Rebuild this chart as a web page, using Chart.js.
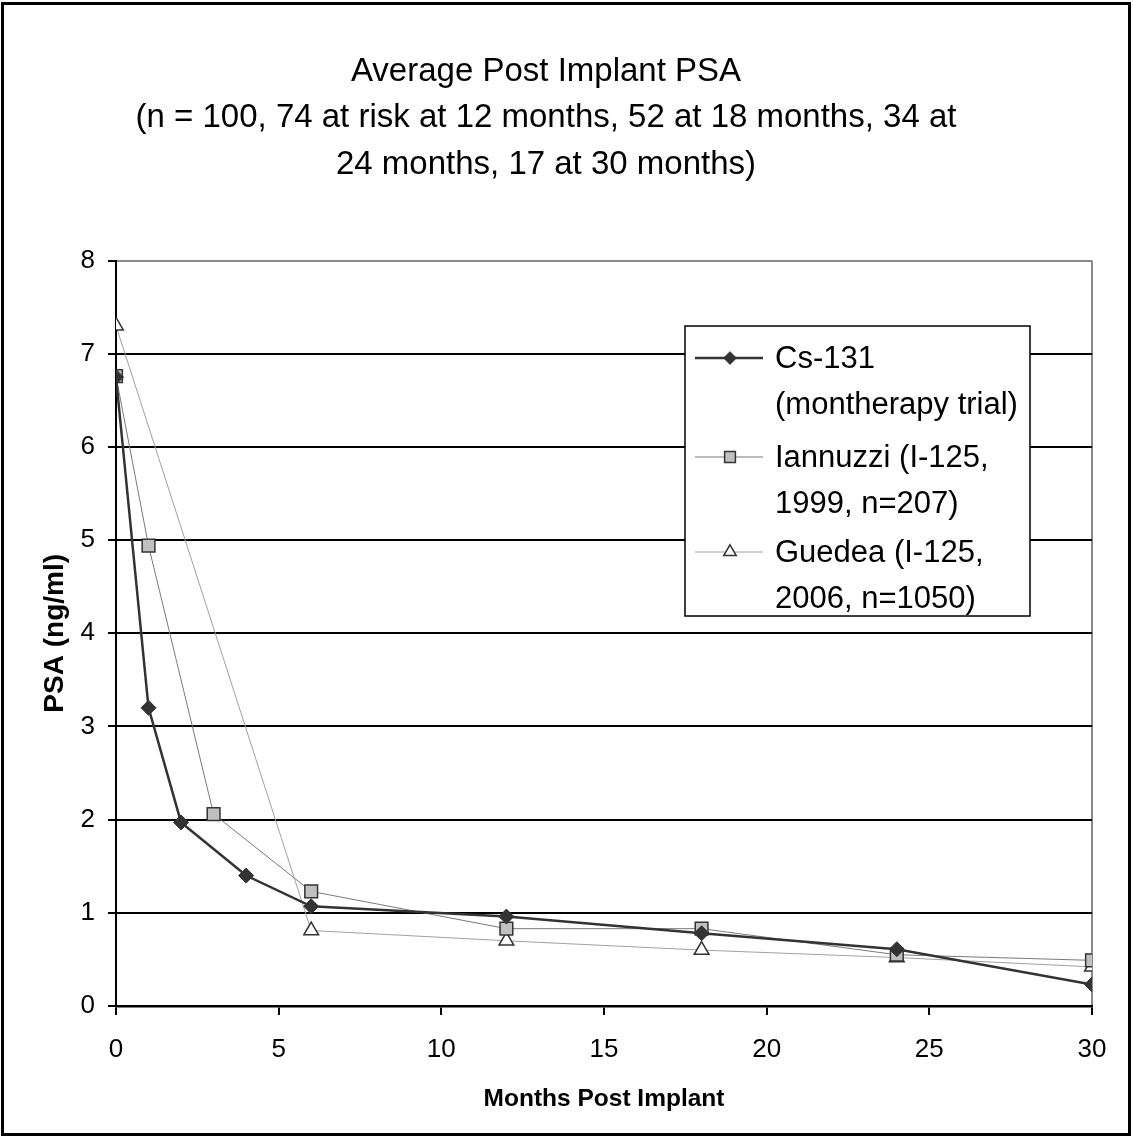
<!DOCTYPE html>
<html>
<head>
<meta charset="utf-8">
<script src="https://cdn.jsdelivr.net/npm/chart.js@4.4.1/dist/chart.umd.min.js"></script>
<style>
  html, body { margin: 0; padding: 0; background: #fff; }
  #wrap { width: 1133px; height: 1138px; position: relative; }
</style>
</head>
<body>
<div id="wrap"><canvas id="myChart"></canvas></div>
<script>
// Data
const monthsCs = [0, 1, 2, 4, 6, 12, 18, 24, 30];
const psaCs = [6.75, 3.2, 1.97, 1.4, 1.07, 0.96, 0.78, 0.61, 0.23];

const monthsIannuzzi = [0, 1, 3, 6, 12, 18, 24, 30];
const psaIannuzzi = [6.76, 4.94, 2.06, 1.23, 0.83, 0.83, 0.55, 0.49];

const monthsGuedea = [0, 6, 12, 18, 24, 30];
const psaGuedea = [7.3, 0.81, 0.7, 0.6, 0.52, 0.42];

const seriesNames = [
    ['Cs-131', '(montherapy trial)'],
    ['Iannuzzi (I-125,', '1999, n=207)'],
    ['Guedea (I-125,', '2006, n=1050)']
];

const titleLines = [
    'Average Post Implant PSA',
    '(n = 100, 74 at risk at 12 months, 52 at 18 months, 34 at',
    '24 months, 17 at 30 months)'
];

const FONT = '"Liberation Sans", Arial, sans-serif';

function points(xs, ys) {
    return xs.map((x, i) => ({ x: x, y: ys[i] }));
}

// Legend box + outer frame
const legendBox = {
    id: 'legendBox',
    afterDraw(chart) {
        const ctx = chart.ctx;
        ctx.save();
        // outer frame
        ctx.strokeStyle = '#000';
        ctx.lineWidth = 3;
        ctx.strokeRect(2.5, 3.5, 1127, 1131);

        // legend
        const bx = 685, by = 326, bw = 345, bh = 290;
        ctx.fillStyle = '#fff';
        ctx.fillRect(bx, by, bw, bh);
        ctx.strokeStyle = '#000';
        ctx.lineWidth = 1.5;
        ctx.strokeRect(bx, by, bw, bh);

        const rows = [358, 457, 552];
        ctx.font = '31px ' + FONT;
        ctx.textBaseline = 'middle';
        ctx.textAlign = 'left';
        chart.data.datasets.forEach((ds, i) => {
            const y = rows[i];
            ctx.strokeStyle = ds.borderColor;
            ctx.lineWidth = ds.borderWidth;
            ctx.beginPath();
            ctx.moveTo(695, y);
            ctx.lineTo(763, y);
            ctx.stroke();
            ctx.fillStyle = ds.pointBackgroundColor;
            ctx.strokeStyle = ds.pointBorderColor;
            ctx.lineWidth = ds.pointBorderWidth;
            Chart.helpers.drawPoint(ctx, {
                pointStyle: ds.pointStyle,
                radius: ds.pointRadius * 0.85,
                rotation: 0,
                borderWidth: ds.pointBorderWidth
            }, 730, y);
            ctx.fillStyle = '#000';
            seriesNames[i].forEach((line, j) => {
                ctx.fillText(line, 775, y + 1 + j * 46);
            });
        });
        ctx.restore();
    }
};

const ctx = document.getElementById('myChart').getContext('2d');
new Chart(ctx, {
    type: 'line',
    data: {
        datasets: [
            {
                label: seriesNames[0].join(' '),
                data: points(monthsCs, psaCs),
                borderColor: '#333333',
                borderWidth: 2.5,
                pointStyle: 'rectRot',
                pointRadius: 7.5,
                pointBackgroundColor: '#333333',
                pointBorderColor: '#333333',
                pointBorderWidth: 1,
                order: 1
            },
            {
                label: seriesNames[1].join(' '),
                data: points(monthsIannuzzi, psaIannuzzi),
                borderColor: '#7a7a7a',
                borderWidth: 1,
                pointStyle: 'rect',
                pointRadius: 9,
                pointBackgroundColor: '#c0c0c0',
                pointBorderColor: '#333333',
                pointBorderWidth: 1.5,
                order: 2
            },
            {
                label: seriesNames[2].join(' '),
                data: points(monthsGuedea, psaGuedea),
                borderColor: '#a0a0a0',
                borderWidth: 1,
                pointStyle: 'triangle',
                pointRadius: 8.5,
                pointBackgroundColor: '#ffffff',
                pointBorderColor: '#333333',
                pointBorderWidth: 1.5,
                order: 3
            }
        ]
    },
    options: {
        responsive: true,
        maintainAspectRatio: false,
        animation: false,
        layout: { padding: { left: 0, right: 41, top: 0, bottom: 0 } },
        plugins: {
            legend: { display: false },
            tooltip: { enabled: false },
            title: {
                display: true,
                text: titleLines,
                color: '#000',
                font: { family: FONT, size: 33, weight: 'normal', lineHeight: 1.4 },
                padding: { top: 49, bottom: 73 }
            }
        },
        scales: {
            x: {
                type: 'linear',
                min: 0,
                max: 30,
                ticks: {
                    stepSize: 5,
                    color: '#000',
                    font: { family: FONT, size: 26 },
                    padding: 19
                },
                grid: {
                    color: c => (c.tick && c.tick.value === 30) ? '#8a8a8a' : 'rgba(0,0,0,0)',
                    tickColor: '#000',
                    tickLength: 9,
                    lineWidth: 2
                },
                border: { color: '#000', width: 2.5 },
                title: {
                    display: true,
                    text: 'Months Post Implant',
                    color: '#000',
                    font: { family: FONT, size: 24.5, weight: 'bold', lineHeight: 1.2 },
                    padding: { top: 0, bottom: 24 }
                },
                afterFit: s => { s.height = 1138 - 1006; }
            },
            y: {
                min: 0,
                max: 8,
                ticks: {
                    stepSize: 1,
                    color: '#000',
                    font: { family: FONT, size: 26 },
                    padding: 13
                },
                grid: {
                    color: c => (c.tick && c.tick.value === 8) ? '#8a8a8a' : '#000',
                    tickColor: '#000',
                    tickLength: 8,
                    lineWidth: 2
                },
                border: { color: '#000', width: 2 },
                title: {
                    display: true,
                    text: 'PSA (ng/ml)',
                    color: '#000',
                    font: { family: FONT, size: 28, weight: 'bold', lineHeight: 1.2 },
                    padding: { top: 38, bottom: 0 }
                },
                afterFit: s => { s.width = 116; }
            }
        }
    },
    plugins: [legendBox]
});
</script>
</body>
</html>
